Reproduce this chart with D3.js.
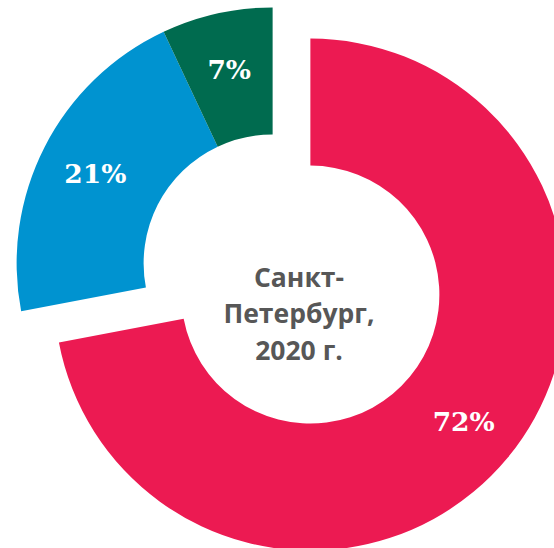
<!DOCTYPE html>
<html><head><meta charset="utf-8">
<script src="https://cdn.jsdelivr.net/npm/d3@7"></script>
<style>html,body{margin:0;padding:0;background:#fff;}svg{display:block;}</style>
</head><body>
<svg id="chart" width="554" height="548"></svg>
<script>
const categories = ["Red", "Blue", "Green"];
const values = [72, 21, 7];
const labels = ["72%", "21%", "7%"];
const colors = ["#EC1A52", "#0093D0", "#006B4F"];
const centerLines = ["Санкт-", "Петербург,", "2020 г."];

const W = 554, H = 548;
const cx = 291.5, cy = 279;
const outerR = 256, innerR = 129, labelR = 199, explode = 24.5;

const svg = d3.select("#chart");
const pie = d3.pie().sort(null).value(d => d)(values);
const arc = d3.arc().innerRadius(innerR).outerRadius(outerR);
const labelArc = d3.arc().innerRadius(labelR).outerRadius(labelR);

// explosion direction: along red slice mid-angle; red pushed out, others pulled opposite
const redMid = (pie[0].startAngle + pie[0].endAngle) / 2;
const ex = Math.sin(redMid) * explode, ey = -Math.cos(redMid) * explode;

const g = svg.append("g");
pie.forEach((p, i) => {
  const dx = i === 0 ? ex : -ex, dy = i === 0 ? ey : -ey;
  const sg = g.append("g").attr("transform", `translate(${cx + dx},${cy + dy})`);
  sg.append("path").attr("d", arc(p)).attr("fill", colors[i]);
  const c = labelArc.centroid(p);
  sg.append("text")
    .attr("x", c[0]).attr("y", c[1])
    .attr("text-anchor", "middle")
    .attr("dominant-baseline", "central")
    .attr("font-family", "DejaVu Serif")
    .attr("font-weight", "bold")
    .attr("font-size", 26.5)
    .attr("fill", "#fff")
    .text(labels[i]);
});

const baselines = [287, 323, 360];
svg.append("g").selectAll("text").data(centerLines).join("text")
  .attr("x", 299)
  .attr("y", (d, i) => baselines[i])
  .attr("text-anchor", "middle")
  .attr("font-family", "Open Sans")
  .attr("font-weight", "bold")
  .attr("font-size", 26.5)
  .attr("fill", "#575757")
  .text(d => d);
</script>
</body></html>
